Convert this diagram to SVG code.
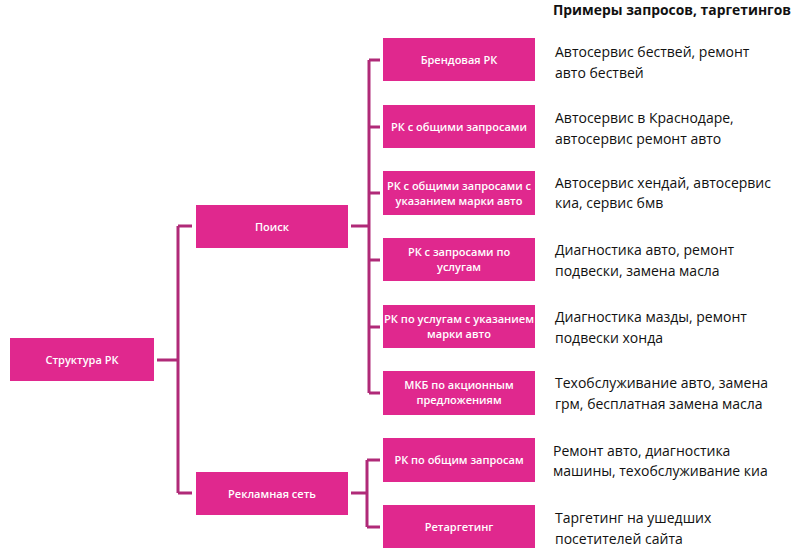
<svg xmlns="http://www.w3.org/2000/svg" width="800" height="558" viewBox="0 0 800 558">
<style>
.b{fill:#e0288e}
.t{fill:#fff;font-family:"Open Sans","Liberation Sans",sans-serif;font-size:11px;font-weight:600;text-anchor:middle}
.d{fill:#111;font-family:"Open Sans","Liberation Sans",sans-serif;font-size:14px}
.c{fill:none;stroke:#b02a78;stroke-width:3}
</style>
<rect width="800" height="558" fill="#fff"/>
<text class="d" x="553" y="15" font-weight="bold" font-size="12.5" textLength="238" lengthAdjust="spacingAndGlyphs">Примеры запросов, таргетингов</text>
<g id="connectors">
<path class="c" d="M157 360H178M178 226V493M178 226H192M178 493H192"/>
<path class="c" d="M351 226H369M369 60V393M369 60H380M369 127H380M369 193H380M369 260H380M369 327H380M369 393H380"/>
<path class="c" d="M351 493H367M367 460V527M367 460H380M367 527H380"/>
</g>
<g id="root"><rect class="b" x="10" y="338" width="144" height="43"/><text class="t" x="82" y="364">Структура РК</text></g>
<g id="search"><rect class="b" x="196" y="205" width="152" height="43"/><text class="t" x="272" y="231">Поиск</text></g>
<g id="network"><rect class="b" x="196" y="472" width="152" height="43"/><text class="t" x="272" y="498">Рекламная сеть</text></g>
<g id="n1"><rect class="b" x="383" y="38" width="152" height="43"/><text class="t" x="459" y="64">Брендовая РК</text></g>
<g id="n2"><rect class="b" x="383" y="105" width="152" height="43"/><text class="t" x="459" y="131">РК с общими запросами</text></g>
<g id="n3"><rect class="b" x="383" y="171" width="152" height="44"/><text class="t" x="459" y="190">РК с общими запросами с</text><text class="t" x="459" y="205">указанием марки авто</text></g>
<g id="n4"><rect class="b" x="383" y="238" width="152" height="43"/><text class="t" x="459" y="256">РК с запросами по</text><text class="t" x="459" y="271">услугам</text></g>
<g id="n5"><rect class="b" x="383" y="305" width="152" height="43"/><text class="t" x="459" y="323" textLength="150" lengthAdjust="spacingAndGlyphs">РК по услугам с указанием</text><text class="t" x="459" y="338">марки авто</text></g>
<g id="n6"><rect class="b" x="383" y="371" width="152" height="44"/><text class="t" x="459" y="389">МКБ по акционным</text><text class="t" x="459" y="404">предложениям</text></g>
<g id="n7"><rect class="b" x="383" y="438" width="152" height="44"/><text class="t" x="459" y="464">РК по общим запросам</text></g>
<g id="n8"><rect class="b" x="383" y="505" width="152" height="43"/><text class="t" x="459" y="531">Ретаргетинг</text></g>
<g id="examples">
<text class="d" x="555" y="57">Автосервис бествей, ремонт</text><text class="d" x="555" y="78">авто бествей</text>
<text class="d" x="555" y="123">Автосервис в Краснодаре,</text><text class="d" x="555" y="144">автосервис ремонт авто</text>
<text class="d" x="555" y="188">Автосервис хендай, автосервис</text><text class="d" x="555" y="208">киа, сервис бмв</text>
<text class="d" x="555" y="255">Диагностика авто, ремонт</text><text class="d" x="555" y="276">подвески, замена масла</text>
<text class="d" x="555" y="322">Диагностика мазды, ремонт</text><text class="d" x="555" y="343">подвески хонда</text>
<text class="d" x="555" y="388">Техобслуживание авто, замена</text><text class="d" x="555" y="409">грм, бесплатная замена масла</text>
<text class="d" x="553" y="456">Ремонт авто, диагностика</text><text class="d" x="553" y="476">машины, техобслуживание киа</text>
<text class="d" x="555" y="523">Таргетинг на ушедших</text><text class="d" x="555" y="544">посетителей сайта</text>
</g>
</svg>
